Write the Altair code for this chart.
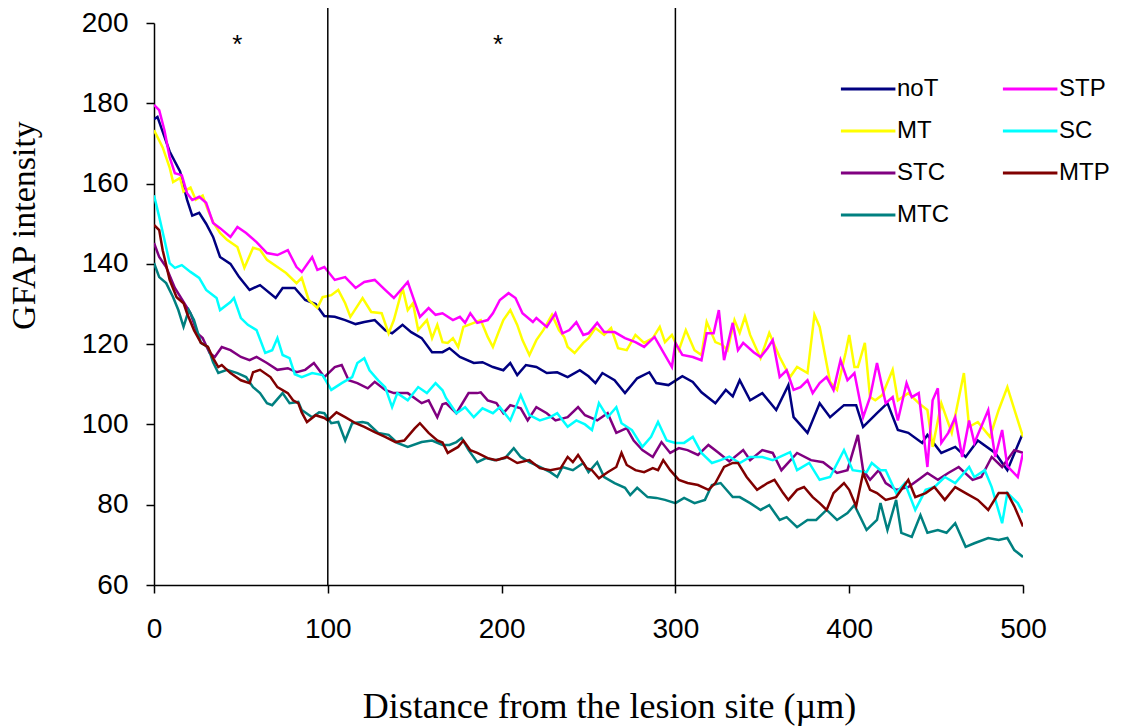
import altair as alt
import pandas as pd

# ---------------- data ----------------
NOT_X = [0,2,9,15,19,22,26,30,34,38,44,49,55,61,70,74,81,87,93,98,104,110,116,121,127,133,137,143,148,154,160,166,170,176,184,189,195,201,205,209,214,220,226,232,238,245,250,254,258,265,271,278,285,289,296,304,310,315,323,329,333,337,343,350,358,365,368,376,383,389,397,404,408,416,422,428,434,442,445,453,461,467,474,484,491,500]
NOT_Y = [176,176.6,168,163,156,152,152.7,150,146.7,141.7,140,136.7,133.5,134.7,131.5,134,134,131,130,127,126.8,126,125,125.5,126,123.5,122.7,124.8,123,121.5,118,118,119,116.8,115.3,115.5,114.3,113.5,115.3,112.3,114.8,114.3,112.8,113,111.8,113.5,112,110.3,112.8,111,107.8,111.5,113,110.3,109.8,112,110.6,108,105.3,108.6,107,111,106,107.8,103.6,109.8,101.8,97.9,105.3,101.8,104.8,104.8,99.4,102.8,105.3,98.6,97.9,95.4,97.4,92.9,94.4,91.9,96,92.9,88.6,97.9]

MT_X = [0,5,9,11,15,17,21,24,28,31,34,38,42,48,52,57,61,65,71,76,82,85,89,94,97,102,106,110,113,120,125,131,135,138,143,146,149,152,157,160,163,166,169,172,175,178,184,188,192,195,198,201,205,209,212,216,220,224,229,233,236,238,242,247,250,254,259,263,267,272,277,282,287,291,294,298,302,306,311,315,318,323,327,330,334,337,340,343,349,354,360,366,370,376,380,383,389,393,398,400,403,405,409,412,415,419,425,428,434,440,445,448,453,459,466,469,474,481,486,491,497,500]
MT_Y = [173.3,169,164,160.4,161.4,158,159,156,157,153.4,150.4,147.7,146,144.2,139,144,143.5,141,139.2,137.7,135.2,136.5,131,129,131.7,132.2,133.5,130.2,126.8,131.5,128,127.7,122.7,126,134,128.5,130.2,123.5,126,121.5,124.8,120.5,120.3,121.5,119.3,124.3,125.3,126,121.8,119.3,122.7,126,128.5,124.8,121,117.3,121,123.5,127.3,123.5,121.8,119.3,117.8,120.3,121.5,124,122.3,124,119,118.5,122.3,120.3,121.5,124.3,120.5,122.3,118.5,123.5,118.5,117.3,125.5,120.5,119.8,118.5,126,122.8,126.8,122.3,116.5,122.8,116.8,111.8,114.3,112.8,127.3,124.3,110.6,108.6,118,122.3,114.3,114.3,120.3,106.8,106,107.3,113.6,106,107.8,105.3,103.6,94.4,105.3,97.9,112.8,99.4,100.6,96.9,103.6,109.3,101,96.9]

STP_X = [0,3,6,9,12,16,19,22,26,30,34,38,44,48,53,59,65,71,77,82,85,91,94,98,104,110,116,121,127,133,138,146,153,158,162,166,172,176,179,182,186,192,195,199,204,208,212,218,220,226,231,235,239,243,247,250,255,259,265,271,277,282,288,293,298,300,304,310,315,318,322,325,328,333,336,339,345,349,353,356,360,364,368,372,376,379,383,387,391,395,399,403,408,412,416,421,425,428,433,436,440,445,448,451,453,457,461,465,469,472,480,484,488,491,497,500]
STP_Y = [179.6,178.3,173.3,166.6,162.6,162.1,157.6,155.9,156.7,155.2,150.2,148.9,146.7,149.2,147.7,145.4,142.7,142.2,143.4,139.2,138,141.7,138.5,139.2,136,136.7,134,135.5,136,133.5,131.5,135.5,126.8,129,127.3,127.7,126,126.8,125.3,127.7,125.3,126,127.7,131,132.7,131.5,127.7,125.5,126.5,124.3,127.7,122.7,123.5,125.5,122.3,122.7,125.3,123,123,121.5,120.5,119.3,121.8,118,114.3,120.3,117.3,116.8,116,122.7,122.7,128.5,116,125.3,118.5,120.3,118,116.8,119,121,111.8,113.5,108.6,109.3,111,107.8,110.3,111.8,108.6,116,111,112.8,101.8,106.8,115.3,105.3,106.8,101,110.3,106.8,107.8,89.4,106,109,95.4,97.9,101.8,91.9,101,95.4,103.6,91.9,98.6,89.6,86.9,92.9]

SC_X = [0,3,6,9,12,16,21,26,30,36,38,44,46,50,54,59,64,68,71,74,78,81,85,91,97,102,108,114,117,121,124,129,133,137,140,146,152,157,162,166,168,174,179,184,189,195,199,205,211,216,222,228,232,238,243,248,252,256,261,266,269,275,281,286,290,295,300,305,310,315,321,326,331,337,343,350,356,366,370,377,383,389,397,402,410,413,418,421,427,432,438,444,449,455,461,469,472,478,482,488,491,497,500]
SC_Y = [157.1,151.7,146,140.2,139,139.7,138,136.5,133.5,131.5,128.5,130.5,131.5,126.5,124.8,123.5,117.8,118.5,121.5,117.3,116.5,112.5,111.8,112.8,112.3,108.6,110.3,111.8,115.3,116.5,113.5,111,109.3,104.3,107.8,106,109.3,107.8,110.3,108.5,106.6,102.8,104.3,101.8,104,102.8,104.3,101,107.3,102.3,101,101.8,102.8,99.4,101,100,98.6,105.3,101.8,104.3,100.3,98.6,94.4,96.9,100.6,96,95.4,95.4,96.9,92.9,90.4,91.1,92,90.4,91.9,91.9,91.1,93.1,88.6,90.4,86.2,86.9,93.6,88.6,88.1,90.4,88.6,88.6,82.9,85.4,78.7,83.7,84.4,86.9,85.4,89.4,86.9,88.6,84.4,75.4,82.9,80.4,78]

STC_X = [0,3,7,12,17,21,25,28,32,35,39,44,50,55,59,65,71,77,82,87,92,98,104,108,112,117,123,127,133,138,146,154,158,163,166,168,174,181,186,188,192,197,201,205,211,215,220,226,231,238,244,248,255,261,266,272,276,281,287,292,297,302,307,313,319,325,331,339,343,350,356,361,370,378,385,393,399,405,408,412,417,421,427,434,441,445,451,457,463,471,476,482,488,495,500]
STC_Y = [145.2,141.7,139.2,134,130.5,127.7,122.7,121.5,117.8,116.8,119.3,118.5,116.8,116,116.8,115.3,113.6,114,113,113.6,115.3,111.8,114.3,114.8,111,110.3,109,110.6,108.6,107.8,107.8,105.3,106,101.8,105,105.3,102.8,107.8,107.8,108,106,105.3,102.8,104.8,104,101,104.3,102.8,101,101.8,104.3,102.3,101,102.8,97.9,99.1,96,93.6,91.9,95.6,92.9,94.1,93.6,92.4,94.9,92.9,90.8,93.6,91.1,93.6,92.9,88.6,92.9,91.1,90.6,87.9,88.6,97.4,88.6,86.2,88.6,85.4,83.7,84.4,86.6,87.9,86.2,87.9,89.4,86.2,86.9,91.9,89.4,93.6,92.9]

MTP_X = [0,3,5,9,13,17,19,23,27,31,34,37,39,44,50,55,57,61,67,71,77,80,83,85,88,93,98,100,105,110,116,121,127,133,139,144,150,153,158,163,166,169,175,178,182,186,192,197,203,209,216,222,228,234,238,241,244,249,252,256,261,266,269,272,277,282,287,290,293,297,302,307,313,319,323,328,333,336,341,347,353,357,362,365,370,374,379,383,387,391,397,400,404,408,412,416,421,427,434,438,444,449,455,461,467,474,480,486,491,495,500]
MTP_Y = [149.7,148.4,143.4,136,131.7,130.2,127.7,123.5,120.3,119.3,116.5,114.3,114.8,112.8,111,110.3,113,113.6,111.8,109.3,107.8,106,105.3,103,100.6,102.3,101.6,101,103,101.8,100.3,99.4,98.1,96.9,95.6,96,99,100.3,97.9,96,95.5,92.9,94.4,96,93.6,92.9,91.6,91.1,91.9,90.4,91.1,89.1,88.6,89.1,91.9,90.6,92.4,89.1,88.6,86.6,88.1,89.4,92.9,89.9,88.6,88.1,89.1,88.6,91.1,88.6,86.2,85.4,84.9,83.7,85.4,89.4,90.4,90.4,86.9,83.7,85.4,86.2,82.9,81.2,83.7,84.4,81.9,80.4,78.7,82.9,85.4,83.7,79.6,87.9,83.7,82.9,81.2,81.9,86.2,81.9,82.9,84.4,81.2,84.4,82.9,81.2,78.7,82.9,82.9,79.6,74.6]

MTC_X = [0,3,7,11,14,17,20,23,27,31,34,37,42,48,53,57,61,65,68,74,78,83,85,91,95,98,102,106,110,114,120,123,129,135,140,146,154,160,166,170,174,177,181,186,191,196,202,207,211,216,222,228,232,235,241,247,250,255,259,265,271,274,278,284,289,294,300,305,311,317,321,326,333,337,343,349,354,360,364,370,376,381,387,393,399,403,410,416,418,422,427,430,436,441,445,451,456,461,467,472,480,486,491,495,500]
MTC_Y = [140.2,136.7,135.2,131.7,128.5,124.3,128.5,126,120.3,119.3,115.5,112.8,113.6,112.8,111.8,109.3,107.8,105.3,104.8,107.8,105.3,105.6,103.6,101.8,103,102.8,100.3,100.6,96,100.3,100.6,100.3,97.9,97.4,95.4,94.4,95.6,96,94.9,94.9,95.6,96.6,93.6,90.6,91.6,91.1,91.6,94.1,91.9,90.6,89.4,88.1,86.9,89.4,88.6,90.4,88.1,90.6,86.9,85.4,84.2,82.4,84.2,81.9,81.7,81.2,80.4,81.7,80.4,81.2,84.9,85.4,81.9,81.9,80.4,78.7,79.9,76.2,76.9,74.4,76.2,76.2,78.7,76.2,77.9,79.9,73.7,76.2,80.4,73.7,81.2,73,72,77.4,73,73.7,73,75.4,69.5,70.4,71.7,71.2,71.7,68.7,67]

# legend order (two columns, filled column by column)
SERIES = ["noT", "MT", "STC", "MTC", "STP", "SC", "MTP"]
COLORS = ["#000080", "#FFFF00", "#800080", "#008080", "#FF00FF", "#00FFFF", "#800000"]

X_TICKS = [0, 100, 200, 300, 400, 500]
Y_TICKS = [60, 80, 100, 120, 140, 160, 180, 200]
BOUNDARIES = [100, 300]
STAR_X = [48, 198]
STAR_Y = [194.5, 194.5]

# ---------------- tables ----------------
rows = []
for name, xs, ys in [("noT", NOT_X, NOT_Y), ("MT", MT_X, MT_Y), ("STC", STC_X, STC_Y),
                     ("MTC", MTC_X, MTC_Y), ("STP", STP_X, STP_Y), ("SC", SC_X, SC_Y),
                     ("MTP", MTP_X, MTP_Y)]:
    for x, y in zip(xs, ys):
        rows.append({"series": name, "distance": x, "gfap": y})
df = pd.DataFrame(rows)
rules_df = pd.DataFrame({"distance": BOUNDARIES})
stars_df = pd.DataFrame({"distance": STAR_X, "gfap": STAR_Y, "txt": ["*", "*"]})

x_scale = alt.Scale(domain=[0, 500], nice=False, zero=False)
y_scale = alt.Scale(domain=[60, 200], nice=False, zero=False)

x_axis = alt.Axis(values=X_TICKS, title="Distance from the lesion site (\u00b5m)",
                  titleFont="Liberation Serif", titleFontSize=36, titleFontWeight="normal",
                  titleColor="black", titleX=455, titleY=132, titleBaseline="alphabetic",
                  titleAlign="center",
                  labelFont="Liberation Sans", labelFontSize=28, labelColor="black",
                  labelPadding=22, tickSize=8, tickColor="black", tickWidth=1.5,
                  domainColor="black", domainWidth=1.5, grid=False, labelFlush=False)
y_axis = alt.Axis(values=Y_TICKS, title="GFAP intensity",
                  titleFont="Liberation Serif", titleFontSize=34, titleFontWeight="normal",
                  titleColor="black", titleX=-120, titleY=202, titleAngle=270,
                  titleBaseline="alphabetic", titleAlign="center",
                  labelFont="Liberation Sans", labelFontSize=28, labelColor="black",
                  labelPadding=18, tickSize=8, tickColor="black", tickWidth=1.5,
                  domainColor="black", domainWidth=1.5, grid=False)

lines = alt.Chart(df).mark_line(strokeWidth=2.5, clip=True).encode(
    x=alt.X("distance:Q", scale=x_scale, axis=x_axis),
    y=alt.Y("gfap:Q", scale=y_scale, axis=y_axis),
    color=alt.Color("series:N",
                    scale=alt.Scale(domain=SERIES, range=COLORS),
                    legend=alt.Legend(title=None, orient="none", legendX=684, legendY=54,
                                      columns=2, symbolType="M-1,0H5", symbolSize=330,
                                      symbolStrokeWidth=3, labelFont="Liberation Sans",
                                      labelFontSize=24, labelColor="black", labelOffset=35,
                                      rowPadding=18, columnPadding=47, padding=0)),
)

rules = alt.Chart(rules_df).mark_rule(color="black", strokeWidth=1.5).encode(
    x=alt.X("distance:Q", scale=x_scale),
    y=alt.value(-15),
    y2=alt.value(562),
)

stars = alt.Chart(stars_df).mark_text(font="Liberation Sans", fontSize=26, color="black",
                                      baseline="middle").encode(
    x=alt.X("distance:Q", scale=x_scale),
    y=alt.Y("gfap:Q", scale=y_scale),
    text="txt:N",
)

chart = alt.layer(lines, rules, stars).properties(
    width=869, height=562,
    autosize=alt.AutoSizeParams(type="none"),
    padding={"left": 154, "top": 23, "right": 104, "bottom": 142},
    background="white",
).configure_view(stroke=None)

chart.save("out.html", embed_options={"renderer": "svg", "actions": False})
